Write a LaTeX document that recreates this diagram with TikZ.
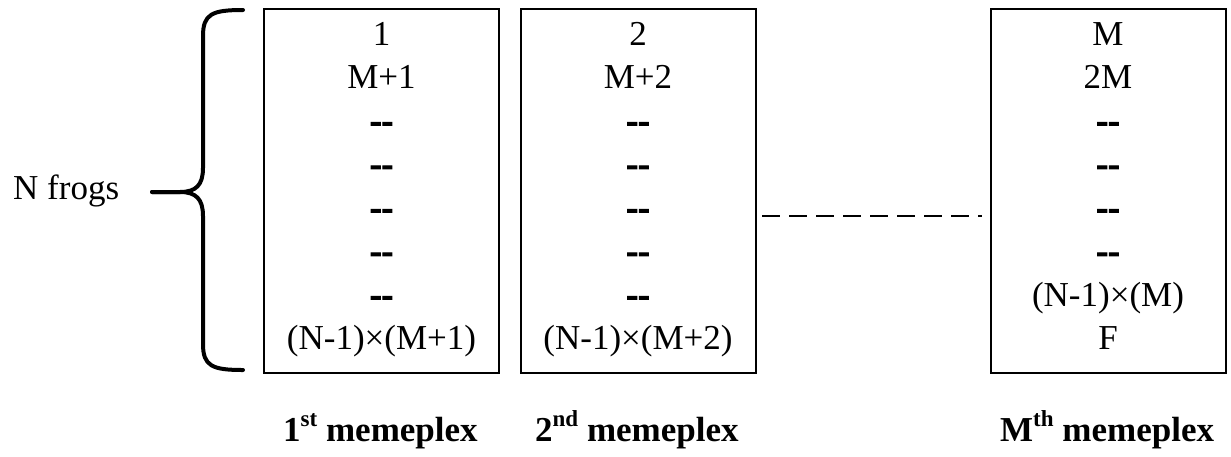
\documentclass[tikz,border=0pt]{standalone}
\usepackage{fontspec}
\setmainfont{Liberation Serif}
\newfontface\heavyface{Liberation Serif Bold}[FakeBold=3]
\newcommand\dsh{{\heavyface -{}-}}
\newcommand\sups[1]{\raisebox{15pt}{\fontsize{23}{23}\selectfont #1}}
\tikzset{
  box/.style={draw=black, line width=2pt, minimum width=235pt, minimum height=364pt, inner sep=0pt},
  cell/.style={anchor=base, inner sep=0pt, font=\fontsize{35}{35}\selectfont},
  lbl/.style={anchor=base west, inner sep=0pt, font=\fontsize{35}{35}\selectfont\bfseries},
  side/.style={anchor=base west, inner sep=0pt, font=\fontsize{35}{35}\selectfont},
  brace/.style={line width=4pt, line cap=round, line join=round},
  gapline/.style={line width=2.5pt, dash pattern=on 18pt off 9pt}
}
\begin{document}
\begin{tikzpicture}[x=1pt,y=-1pt]
\useasboundingbox (0,0) rectangle (1231,456);
% boxes
\node[box] (b1) at (381.5,191) {};
\node[box] (b2) at (638,191) {};
\node[box] (bm) at (1108,191) {};
% rows
\foreach \t [count=\i] in {1,M+1,\dsh,\dsh,\dsh,\dsh,\dsh,{(N-1)×(M+1)}}
  \node[cell] (b1r\i) at (381.5,{45+(\i-1)*43.5}) {\t};
\foreach \t [count=\i] in {2,M+2,\dsh,\dsh,\dsh,\dsh,\dsh,{(N-1)×(M+2)}}
  \node[cell] (b2r\i) at (638,{45+(\i-1)*43.5}) {\t};
\foreach \t [count=\i] in {M,2M,\dsh,\dsh,\dsh,\dsh,{(N-1)×(M)},F}
  \node[cell] (bmr\i) at (1108,{45+(\i-1)*43.5}) {\t};
% labels
\node[lbl] (l1) at (283,441) {1\sups{st} memeplex};
\node[lbl] (l2) at (535,441) {2\sups{nd} memeplex};
\node[lbl] (lm) at (1000,441) {M\sups{th} memeplex};
% N frogs
\node[side] (nf) at (13,199) {N frogs};
% brace
\coordinate (bt) at (243,10);
\coordinate (bb) at (243,370);
\coordinate (tip) at (152,192);
\draw[brace] (bt) .. controls (212,10) and (203,14) .. (203,36) -- (203,168)
  .. controls (203,185) and (196,192) .. (180,192) -- (tip);
\draw[brace] (tip) -- (180,192) .. controls (196,192) and (203,199) .. (203,216)
  -- (203,344) .. controls (203,366) and (212,370) .. (bb);
% dashed connector
\coordinate (d1) at (762,216);
\coordinate (d2) at (982,216);
\draw[gapline] (d1) -- (d2);
\end{tikzpicture}
\end{document}
